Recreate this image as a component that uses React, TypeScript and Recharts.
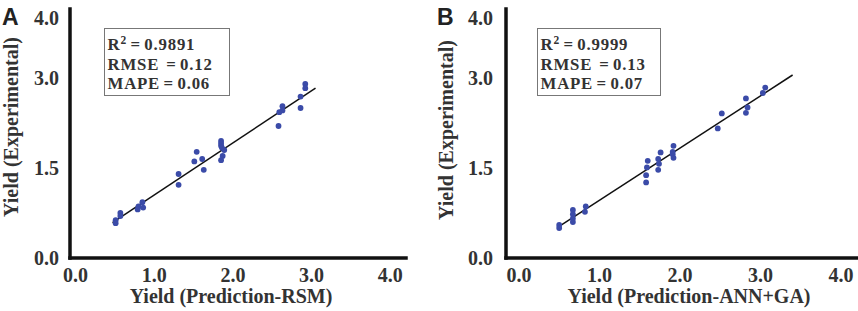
import { ReferenceLine, Scatter, ScatterChart, XAxis, YAxis } from "recharts";

// Panel A: RSM prediction vs experiment
const rsmPredicted = [
  2.92, 2.92, 2.86, 2.86, 2.63, 2.63, 2.59, 2.58, 1.85, 1.85, 1.85, 1.86, 1.89, 1.87, 1.85, 1.54, 1.61, 1.51,
  1.63, 1.31, 1.31, 0.85, 0.8, 0.86, 0.79, 0.57, 0.57, 0.51, 0.51,
];
const rsmExperimental = [
  2.9, 2.83, 2.69, 2.5, 2.53, 2.46, 2.43, 2.2, 1.95, 1.91, 1.87, 1.84, 1.8, 1.7, 1.63, 1.77, 1.65, 1.61, 1.47,
  1.4, 1.22, 0.93, 0.86, 0.84, 0.81, 0.75, 0.7, 0.63, 0.58,
];
const rsmFit = [
  { x: 0.47, y: 0.59 },
  { x: 3.05, y: 2.83 },
];
const rsmMetrics = ["0.9891", "0.12", "0.06"];

// Panel B: ANN+GA prediction vs experiment
const annPredicted = [
  3.06, 3.03, 2.82, 2.84, 2.82, 2.52, 2.47, 1.92, 1.91, 1.91, 1.92, 1.76, 1.73, 1.74, 1.73, 1.6, 1.59, 1.58,
  1.58, 0.83, 0.82, 0.67, 0.67, 0.67, 0.67, 0.5, 0.5,
];
const annExperimental = [
  2.84, 2.75, 2.66, 2.51, 2.42, 2.41, 2.16, 1.87, 1.77, 1.73, 1.67, 1.76, 1.65, 1.57, 1.47, 1.62, 1.51, 1.38,
  1.26, 0.86, 0.77, 0.8, 0.73, 0.66, 0.6, 0.55, 0.5,
];
const annFit = [
  { x: 0.49, y: 0.52 },
  { x: 3.4, y: 3.05 },
];
const annMetrics = ["0.9999", "0.13", "0.07"];

const xTicks = [0, 1, 2, 3, 4];
const yTicks = [0, 1.5, 3, 4];

const SERIF = "'Liberation Serif', 'Times New Roman', serif";
const TEXT = "#333";
const DOT = "#3b4ba8";

const TICK = { fill: TEXT, fontSize: 20, fontWeight: 700, fontFamily: SERIF };
const AXIS_LINE = { stroke: "#111", strokeWidth: 3.5, strokeLinecap: "square" as const };

const toRows = (xs: number[], ys: number[]) => xs.map((x, i) => ({ x, y: ys[i] }));

const Dot = (props: any) => <circle cx={props.cx} cy={props.cy} r={2.9} fill={DOT} />;

function FitPanel({
  letter,
  left,
  width,
  yAxisWidth,
  yTickMargin,
  marginRight,
  xDomain,
  rows,
  fit,
  metrics,
  xTitle,
  xTitleCenter,
  yTitleCenter,
  boxLeft,
  boxWidth,
}: {
  letter: string;
  left: number;
  width: number;
  yAxisWidth: number;
  yTickMargin: number;
  marginRight: number;
  xDomain: [number, number];
  rows: { x: number; y: number }[];
  fit: { x: number; y: number }[];
  metrics: string[];
  xTitle: string;
  xTitleCenter: number;
  yTitleCenter: [number, number];
  boxLeft: number;
  boxWidth: number;
}) {
  return (
    <>
      <div style={{ position: "absolute", left, top: 0 }}>
        <ScatterChart width={width} height={311} margin={{ top: 9, right: marginRight, bottom: 23, left: 0 }}>
          <XAxis
            type="number"
            dataKey="x"
            domain={xDomain}
            ticks={xTicks}
            interval={0}
            height={30}
            tickSize={0}
            tickMargin={10}
            axisLine={AXIS_LINE}
            tickLine={false}
            tick={TICK}
            tickFormatter={(v: number) => v.toFixed(1)}
          />
          <YAxis
            type="number"
            dataKey="y"
            domain={[0, 4.15]}
            ticks={yTicks}
            interval={0}
            width={yAxisWidth}
            tickSize={0}
            tickMargin={yTickMargin}
            axisLine={AXIS_LINE}
            tickLine={false}
            tick={TICK}
            tickFormatter={(v: number) => v.toFixed(1)}
          />
          <ReferenceLine segment={fit} stroke="#111" strokeWidth={1.5} />
          <Scatter data={rows} shape={Dot} isAnimationActive={false} />
        </ScatterChart>
      </div>

      <div
        style={{
          position: "absolute",
          left: left + (letter === "A" ? 2 : 7),
          top: 6,
          fontFamily: "'Liberation Sans', Arial, sans-serif",
          fontWeight: 700,
          fontSize: 23,
          lineHeight: "23px",
          color: "#222",
        }}
      >
        {letter}
      </div>

      <div
        style={{
          position: "absolute",
          left: yTitleCenter[0],
          top: yTitleCenter[1],
          transform: "translate(-50%, -50%) rotate(-90deg)",
          whiteSpace: "nowrap",
          fontFamily: SERIF,
          fontWeight: 700,
          fontSize: 20,
          lineHeight: "20px",
          color: TEXT,
        }}
      >
        Yield (Experimental)
      </div>

      <div
        style={{
          position: "absolute",
          left: xTitleCenter,
          top: 286,
          transform: "translateX(-50%)",
          whiteSpace: "nowrap",
          fontFamily: SERIF,
          fontWeight: 700,
          fontSize: 20,
          lineHeight: "20px",
          color: TEXT,
        }}
      >
        {xTitle}
      </div>

      <div
        style={{
          position: "absolute",
          left: boxLeft,
          top: 28,
          width: boxWidth,
          height: 68,
          boxSizing: "border-box",
          border: "1px solid #777",
          background: "#fff",
          padding: "7px 0 0 2.5px",
          fontFamily: SERIF,
          fontWeight: 700,
          fontSize: 16.8,
          lineHeight: "18.8px",
          letterSpacing: 0.8,
          wordSpacing: -1.5,
          color: TEXT,
          whiteSpace: "pre",
        }}
      >
        <div>
          R<span style={{ fontSize: 11.5, position: "relative", top: -6.5 }}>2</span> = {metrics[0]}
        </div>
        <div>RMSE  = {metrics[1]}</div>
        <div>MAPE = {metrics[2]}</div>
      </div>
    </>
  );
}

export default function App() {
  return (
    <div style={{ position: "absolute", left: 0, top: 0, width: 858, height: 311, background: "#fff", overflow: "hidden" }}>
      <FitPanel
        letter="A"
        left={0}
        width={430}
        yAxisWidth={70}
        yTickMargin={11}
        marginRight={24}
        xDomain={[-0.07, 4.2]}
        rows={toRows(rsmPredicted, rsmExperimental)}
        fit={rsmFit}
        metrics={rsmMetrics}
        xTitle="Yield (Prediction-RSM)"
        xTitleCenter={231}
        yTitleCenter={[11, 127]}
        boxLeft={104}
        boxWidth={126}
      />
      <FitPanel
        letter="B"
        left={430}
        width={428}
        yAxisWidth={76}
        yTickMargin={13}
        marginRight={1}
        xDomain={[-0.161, 4.2]}
        rows={toRows(annPredicted, annExperimental)}
        fit={annFit}
        metrics={annMetrics}
        xTitle="Yield (Prediction-ANN+GA)"
        xTitleCenter={689}
        yTitleCenter={[446, 130]}
        boxLeft={537}
        boxWidth={124}
      />
    </div>
  );
}
